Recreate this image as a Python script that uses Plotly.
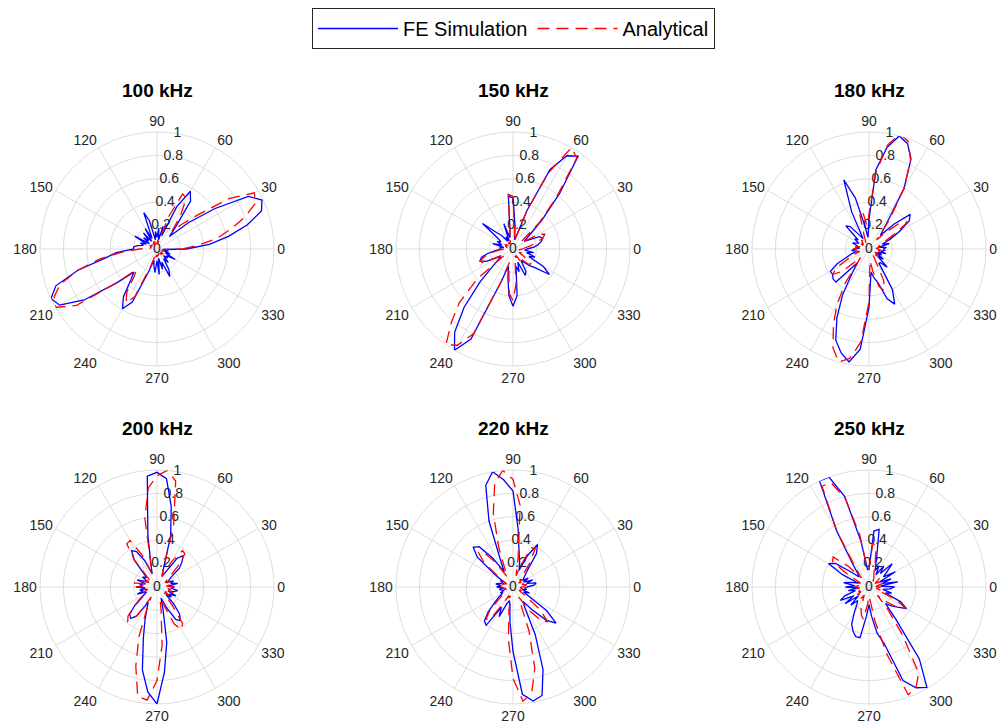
import plotly.graph_objects as go

# Angles (degrees) at which the beam patterns are sampled
theta = list(range(0, 360, 5))

freq_labels = ["100 kHz", "150 kHz", "180 kHz", "200 kHz", "220 kHz", "250 kHz"]

# ---- FE Simulation (normalised amplitude) ----
fe_100 = [0.25, 0.45, 0.62, 0.80, 0.95, 0.99, 0.90, 0.60, 0.35, 0.15, 0.25, 0.50,
          0.57, 0.40, 0.12, 0.20, 0.08, 0.18, 0.10, 0.15, 0.08, 0.25, 0.33, 0.10,
          0.20, 0.08, 0.18, 0.10, 0.15, 0.08, 0.22, 0.10, 0.15, 0.12, 0.17, 0.20,
          0.20, 0.35, 0.45, 0.70, 0.92, 1.00, 0.96, 0.76, 0.45, 0.28, 0.35, 0.50,
          0.59, 0.50, 0.20, 0.10, 0.15, 0.20, 0.10, 0.22, 0.08, 0.18, 0.12, 0.26,
          0.20, 0.10, 0.15, 0.08, 0.12, 0.10, 0.18, 0.08, 0.12, 0.05, 0.10, 0.05]
fe_150 = [0.12, 0.18, 0.22, 0.25, 0.27, 0.25, 0.15, 0.12, 0.18, 0.35, 0.62, 0.97,
          0.92, 0.75, 0.35, 0.12, 0.08, 0.20, 0.44, 0.45, 0.15, 0.10, 0.23, 0.08,
          0.12, 0.08, 0.15, 0.20, 0.34, 0.15, 0.12, 0.15, 0.10, 0.18, 0.08, 0.12,
          0.10, 0.15, 0.22, 0.28, 0.30, 0.25, 0.12, 0.15, 0.22, 0.40, 0.65, 0.87,
          1.00, 0.85, 0.30, 0.15, 0.25, 0.40, 0.49, 0.40, 0.15, 0.20, 0.12, 0.25,
          0.22, 0.12, 0.15, 0.20, 0.25, 0.38, 0.30, 0.15, 0.20, 0.12, 0.18, 0.10]
fe_180 = [0.12, 0.15, 0.08, 0.18, 0.12, 0.20, 0.30, 0.42, 0.46, 0.30, 0.15, 0.25,
          0.60, 0.85, 0.96, 1.00, 0.88, 0.68, 0.25, 0.10, 0.20, 0.45, 0.63, 0.35,
          0.10, 0.15, 0.25, 0.28, 0.12, 0.15, 0.10, 0.12, 0.15, 0.10, 0.12, 0.08,
          0.12, 0.15, 0.10, 0.15, 0.20, 0.30, 0.38, 0.38, 0.40, 0.40, 0.15, 0.25,
          0.45, 0.65, 0.83, 0.92, 0.98, 0.86, 0.50, 0.20, 0.25, 0.30, 0.45, 0.52,
          0.40, 0.15, 0.15, 0.22, 0.10, 0.15, 0.08, 0.12, 0.08, 0.15, 0.10, 0.14]
fe_200 = [0.15, 0.10, 0.18, 0.12, 0.15, 0.10, 0.12, 0.15, 0.25, 0.30, 0.35, 0.30,
          0.15, 0.10, 0.15, 0.45, 0.70, 0.93, 0.98, 0.95, 0.45, 0.20, 0.12, 0.25,
          0.35, 0.38, 0.30, 0.15, 0.12, 0.15, 0.10, 0.12, 0.18, 0.10, 0.15, 0.12,
          0.18, 0.10, 0.15, 0.12, 0.18, 0.10, 0.12, 0.18, 0.25, 0.33, 0.35, 0.30,
          0.15, 0.20, 0.30, 0.45, 0.72, 0.90, 1.00, 0.73, 0.48, 0.20, 0.10, 0.20,
          0.32, 0.35, 0.30, 0.20, 0.10, 0.15, 0.12, 0.18, 0.10, 0.15, 0.18, 0.12]
fe_220 = [0.12, 0.18, 0.20, 0.12, 0.18, 0.10, 0.15, 0.10, 0.12, 0.15, 0.20, 0.35,
          0.42, 0.30, 0.15, 0.22, 0.30, 0.50, 0.82, 0.92, 1.00, 0.90, 0.60, 0.25,
          0.15, 0.30, 0.45, 0.48, 0.40, 0.20, 0.10, 0.12, 0.08, 0.12, 0.15, 0.10,
          0.14, 0.08, 0.12, 0.10, 0.08, 0.12, 0.10, 0.15, 0.20, 0.30, 0.38, 0.40,
          0.20, 0.28, 0.15, 0.12, 0.15, 0.30, 0.55, 0.92, 0.99, 0.96, 0.75, 0.45,
          0.20, 0.15, 0.25, 0.40, 0.48, 0.35, 0.15, 0.10, 0.15, 0.08, 0.12, 0.10]
fe_250 = [0.22, 0.10, 0.25, 0.12, 0.20, 0.10, 0.26, 0.15, 0.20, 0.28, 0.15, 0.22,
          0.12, 0.20, 0.15, 0.25, 0.50, 0.48, 0.15, 0.15, 0.40, 0.80, 1.00, 1.00,
          0.55, 0.25, 0.15, 0.12, 0.20, 0.35, 0.40, 0.25, 0.10, 0.15, 0.22, 0.12,
          0.20, 0.10, 0.18, 0.12, 0.22, 0.27, 0.15, 0.25, 0.12, 0.22, 0.15, 0.18,
          0.25, 0.35, 0.40, 0.44, 0.44, 0.25, 0.15, 0.25, 0.40, 0.50, 0.85, 0.95,
          0.99, 0.75, 0.35, 0.20, 0.25, 0.30, 0.37, 0.30, 0.15, 0.20, 0.12, 0.18]

# ---- Analytical (normalised amplitude) ----
an_100 = [0.22, 0.35, 0.52, 0.65, 0.80, 0.93, 0.96, 0.75, 0.45, 0.30, 0.20, 0.35,
          0.50, 0.52, 0.30, 0.10, 0.05, 0.08, 0.04, 0.06, 0.05, 0.08, 0.05, 0.07,
          0.04, 0.06, 0.05, 0.07, 0.04, 0.06, 0.05, 0.07, 0.05, 0.06, 0.05, 0.08,
          0.15, 0.30, 0.50, 0.70, 0.88, 0.97, 1.00, 0.84, 0.45, 0.25, 0.30, 0.45,
          0.53, 0.45, 0.15, 0.05, 0.08, 0.05, 0.07, 0.05, 0.06, 0.04, 0.07, 0.05,
          0.06, 0.04, 0.06, 0.05, 0.07, 0.04, 0.06, 0.05, 0.07, 0.04, 0.06, 0.05]
an_150 = [0.08, 0.10, 0.15, 0.20, 0.27, 0.30, 0.25, 0.10, 0.08, 0.32, 0.58, 0.95,
          1.00, 0.72, 0.35, 0.12, 0.06, 0.15, 0.45, 0.47, 0.15, 0.06, 0.08, 0.05,
          0.07, 0.05, 0.08, 0.06, 0.07, 0.05, 0.08, 0.06, 0.07, 0.05, 0.08, 0.06,
          0.08, 0.12, 0.20, 0.25, 0.30, 0.28, 0.10, 0.08, 0.40, 0.65, 0.82, 1.00,
          0.95, 0.80, 0.30, 0.12, 0.20, 0.38, 0.44, 0.30, 0.10, 0.06, 0.08, 0.06,
          0.10, 0.15, 0.12, 0.18, 0.20, 0.12, 0.06, 0.08, 0.05, 0.07, 0.05, 0.06]
an_180 = [0.08, 0.06, 0.10, 0.08, 0.12, 0.15, 0.25, 0.40, 0.35, 0.20, 0.10, 0.30,
          0.60, 0.84, 0.98, 1.02, 0.90, 0.65, 0.30, 0.20, 0.34, 0.30, 0.12, 0.06,
          0.08, 0.06, 0.10, 0.08, 0.06, 0.08, 0.06, 0.08, 0.10, 0.08, 0.12, 0.10,
          0.14, 0.10, 0.12, 0.08, 0.15, 0.20, 0.32, 0.38, 0.30, 0.10, 0.15, 0.35,
          0.55, 0.72, 0.90, 1.00, 0.95, 0.80, 0.45, 0.10, 0.20, 0.33, 0.38, 0.30,
          0.10, 0.06, 0.08, 0.06, 0.10, 0.08, 0.06, 0.08, 0.10, 0.12, 0.08, 0.10]
an_200 = [0.15, 0.08, 0.12, 0.10, 0.08, 0.12, 0.08, 0.10, 0.15, 0.25, 0.37, 0.38,
          0.25, 0.10, 0.15, 0.55, 0.92, 1.00, 0.95, 0.85, 0.60, 0.20, 0.12, 0.30,
          0.46, 0.45, 0.30, 0.10, 0.08, 0.12, 0.08, 0.10, 0.15, 0.10, 0.20, 0.12,
          0.18, 0.10, 0.12, 0.08, 0.12, 0.10, 0.12, 0.15, 0.25, 0.35, 0.39, 0.30,
          0.10, 0.20, 0.45, 0.70, 0.95, 0.97, 0.80, 0.50, 0.20, 0.10, 0.15, 0.35,
          0.42, 0.38, 0.20, 0.10, 0.08, 0.12, 0.08, 0.10, 0.15, 0.10, 0.12, 0.08]
an_220 = [0.08, 0.10, 0.12, 0.08, 0.10, 0.06, 0.08, 0.06, 0.10, 0.08, 0.12, 0.25,
          0.38, 0.37, 0.20, 0.10, 0.25, 0.70, 0.92, 1.00, 0.90, 0.65, 0.35, 0.15,
          0.10, 0.25, 0.38, 0.42, 0.32, 0.15, 0.08, 0.06, 0.08, 0.10, 0.08, 0.12,
          0.10, 0.08, 0.06, 0.08, 0.06, 0.08, 0.08, 0.10, 0.15, 0.28, 0.36, 0.33,
          0.15, 0.08, 0.10, 0.08, 0.20, 0.45, 0.78, 0.98, 0.92, 0.72, 0.40, 0.15,
          0.10, 0.25, 0.38, 0.42, 0.30, 0.12, 0.06, 0.08, 0.06, 0.10, 0.08, 0.06]
an_250 = [0.10, 0.06, 0.08, 0.12, 0.08, 0.10, 0.06, 0.08, 0.12, 0.10, 0.08, 0.06,
          0.08, 0.10, 0.12, 0.20, 0.35, 0.38, 0.15, 0.15, 0.45, 0.78, 0.95, 0.95,
          0.55, 0.20, 0.10, 0.25, 0.40, 0.38, 0.20, 0.08, 0.10, 0.06, 0.08, 0.10,
          0.12, 0.08, 0.10, 0.06, 0.08, 0.10, 0.08, 0.12, 0.10, 0.08, 0.10, 0.12,
          0.08, 0.12, 0.20, 0.25, 0.28, 0.15, 0.08, 0.12, 0.30, 0.60, 0.98, 0.95,
          0.85, 0.50, 0.25, 0.10, 0.20, 0.32, 0.36, 0.25, 0.08, 0.10, 0.06, 0.08]

fe_series = [fe_100, fe_150, fe_180, fe_200, fe_220, fe_250]
an_series = [an_100, an_150, an_180, an_200, an_220, an_250]

radial_ticks = [0, 0.2, 0.4, 0.6, 0.8, 1]
radial_text = ["0", "0.2", "0.4", "0.6", "0.8", "1"]
radial_label_angle = 80
angle_ticks = list(range(0, 360, 30))
angle_text = [str(a) for a in angle_ticks]

W, H = 1003, 726
centers_x = [157, 513, 869]
centers_y = [249, 587]
R = 117
title_y = [91, 428]

fig = go.Figure()
layout_polars = {}
annotations = []
for i in range(6):
    row, col = divmod(i, 3)
    cx, cy = centers_x[col], centers_y[row]
    name = "polar" if i == 0 else f"polar{i+1}"
    sub = name
    th = theta + [theta[0]]
    fe = fe_series[i] + [fe_series[i][0]]
    an = an_series[i] + [an_series[i][0]]
    # radial tick labels, centred on the 80-degree spoke (MATLAB style)
    fig.add_trace(go.Scatterpolar(r=radial_ticks, theta=[radial_label_angle] * len(radial_ticks),
                                  mode="text", text=radial_text, textposition="middle center",
                                  textfont=dict(size=14, color="#262626"),
                                  showlegend=False, hoverinfo="skip", subplot=sub))
    fig.add_trace(go.Scatterpolar(r=fe, theta=th, mode="lines", name="FE Simulation",
                                  line=dict(color="#0000FF", width=1.3),
                                  showlegend=(i == 0), subplot=sub))
    fig.add_trace(go.Scatterpolar(r=an, theta=th, mode="lines", name="Analytical",
                                  line=dict(color="#FF0000", width=1.3, dash="12px,7px"),
                                  showlegend=(i == 0), subplot=sub))
    layout_polars[name] = dict(
        domain=dict(x=[(cx - R) / W, (cx + R) / W],
                    y=[1 - (cy + R) / H, 1 - (cy - R) / H]),
        bgcolor="white",
        radialaxis=dict(range=[0, 1], tickvals=radial_ticks, showticklabels=False,
                        angle=radial_label_angle, showline=False, ticks="",
                        gridcolor="#dddddd", gridwidth=1, layer="below traces"),
        angularaxis=dict(direction="counterclockwise", rotation=0,
                         tickvals=angle_ticks, ticktext=angle_text, ticks="",
                         showline=True, linecolor="#dddddd", linewidth=1,
                         gridcolor="#dddddd", gridwidth=1,
                         tickfont=dict(size=14, color="#262626"),
                         layer="below traces"),
    )
    annotations.append(dict(text=f"<b>{freq_labels[i]}</b>", x=cx / W, y=1 - title_y[row] / H,
                            xref="paper", yref="paper", xanchor="center", yanchor="middle",
                            showarrow=False, font=dict(size=19, color="black")))

fig.update_layout(
    width=W, height=H,
    margin=dict(l=0, r=0, t=0, b=0),
    paper_bgcolor="white",
    font=dict(family="Liberation Sans, Arial, sans-serif", color="#262626"),
    showlegend=True,
    legend=dict(orientation="h", x=513.5 / W, xanchor="center", y=1 - 8 / H, yanchor="top",
                bordercolor="#262626", borderwidth=1, bgcolor="white",
                font=dict(size=20, color="black"), itemwidth=80),
    annotations=annotations,
    **layout_polars,
)

fig.write_html("out.html")
